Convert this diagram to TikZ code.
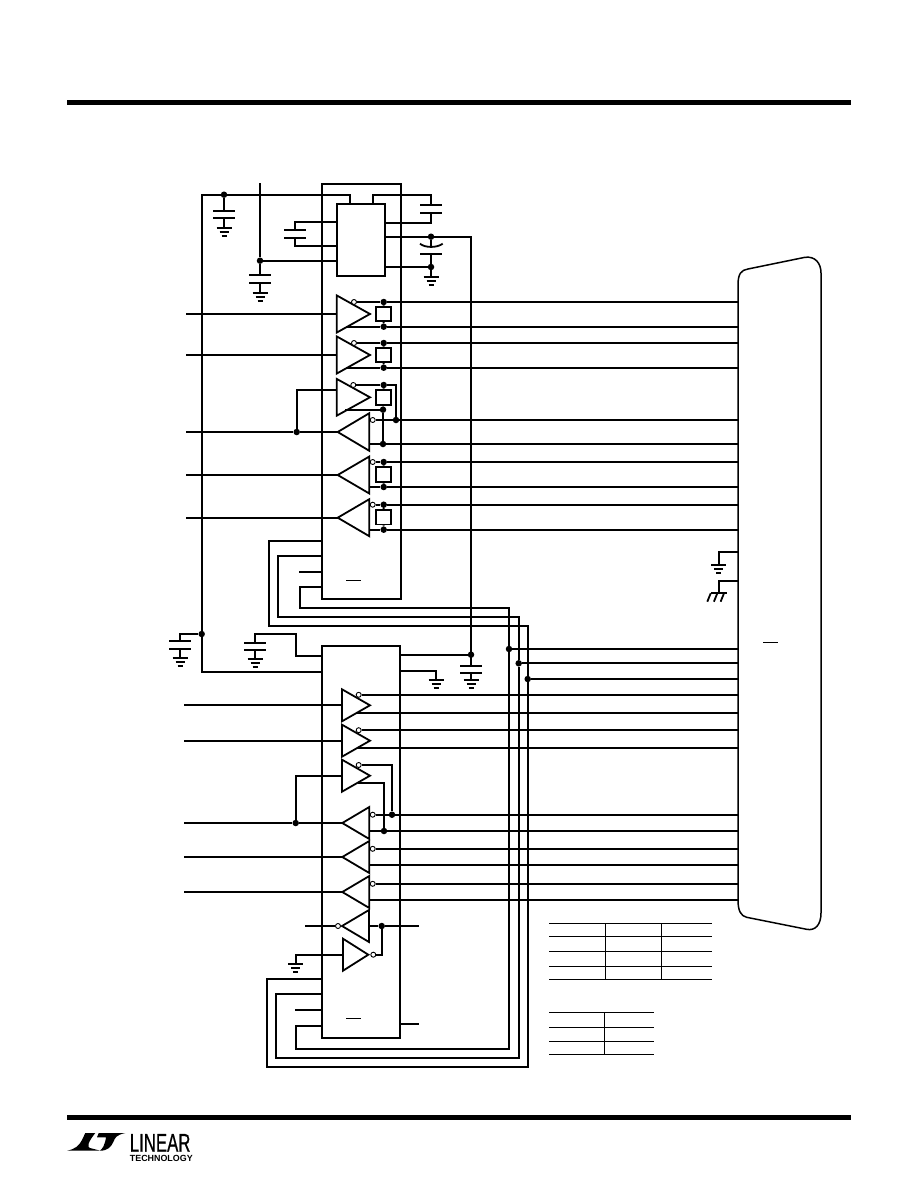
\documentclass[tikz,border=0pt]{standalone}
\usepackage{fontspec}
\setsansfont{Liberation Sans}
\newfontfamily\logofont[FakeBold=0.8]{Liberation Sans}
\tikzset{
  wire/.style={line width=1.8pt},
  hair/.style={line width=0.9pt},
  bar/.style={line width=5pt},
  dot/.style={circle,fill=black,inner sep=0pt,minimum size=6.5pt},
  bubble/.style={circle,draw,fill=white,line width=0.9pt,inner sep=0pt,minimum size=5pt},
  chip/.style={draw,line width=1.8pt,inner sep=0pt},
  resbox/.style={chip,minimum width=15.6pt,minimum height=14.5pt},
  pics/tri/.style args={#1/#2}{code={\draw[wire] (0,-#2) -- (#1,0) -- (0,#2) -- cycle;}},
  pics/gnd/.style={code={
    \draw[wire] (-7.5,0) -- (7.5,0);
    \draw[wire] (-4.5,4) -- (4.5,4);
    \draw[wire] (-2.5,8) -- (2.5,8);}},
  pics/plates/.style={code={
    \draw[wire] (-11,0) -- (11,0);
    \draw[wire] (-11,7.6) -- (11,7.6);}}
}
\begin{document}
\begin{tikzpicture}[x=1pt,y=-1pt]
  \useasboundingbox (0,0) rectangle (918,1188);
  %page rules:
  \draw[bar] (67,102.5) -- (851,102.5);
  \draw[bar] (67,1117.5) -- (851,1117.5);
  %CONNECTOR:
  \draw[line width=1.5pt] (738,900) -- (738,285) .. controls (738,274) and (741,270) .. (748,269) -- (805,257.3) .. controls (815,256) and (821,263) .. (821,273) -- (821,913) .. controls (821,925) and (815,931) .. (806.7,929.3) -- (746.7,917.3) .. controls (741,916) and (738,911) .. (738,900);
  \draw[hair] (763,642.3) -- (778,642.3);
  \draw[wire] (738,551.7) -- (718.7,551.7) -- (718.7,564.7);
  \pic at (718.7,564.7) {gnd};
  \draw[wire] (738,580.7) -- (718.7,580.7) -- (718.7,593.3);
  \draw[wire] (710.7,593.3) -- (726.7,593.3);
  \foreach \xx in {710.7,717.3,724}{
    \draw[wire] (\xx,593.3) -- ++(-3.4,8.4);
  }
  %--- FIRST CHIP ---
  \node[chip,minimum width=79pt,minimum height=415pt] (icA) at (361.5,391.5) {};
  \node[chip,minimum width=48.3pt,minimum height=72.3pt] (regu) at (360.85,239.85) {};
  \draw[hair] (346,580.3) -- (361,580.3);
  %supply and pump capacitors
  \node[dot] (railL) at (201.7,634) {};
  \node[dot] (railA) at (224,194.7) {};
  \node[dot] (vddA) at (260,260.7) {};
  \node[dot] (pumpT) at (431,236.7) {};
  \node[dot] (pumpB) at (431,267) {};
  \draw[wire] (322,671.7) -- (201.7,671.7) -- (railL) -- (201.7,194.7) -- (railA) -- (350,194.7) -- (350,203.7);
  \draw[wire] (railA) -- (224,210.7);
  \pic at (224,210.7) {plates};
  \draw[wire] (224,218.3) -- (224,228);
  \pic at (224,228) {gnd};
  \draw[wire] (260,183) -- (vddA) -- (260,275);
  \draw[wire] (vddA) -- (337,260.7);
  \pic at (260,275) {plates};
  \draw[wire] (260,282.6) -- (260,292.7);
  \pic at (260,292.7) {gnd};
  \draw[wire] (373.3,203.7) -- (373.3,194.7) -- (431,194.7) -- (431,205.1);
  \pic at (431,205.1) {plates};
  \draw[wire] (431,212.7) -- (431,222.7) -- (385,222.7);
  \draw[wire] (337,221.7) -- (295,221.7) -- (295,230);
  \pic at (295,230) {plates};
  \draw[wire] (295,237.6) -- (295,246) -- (337,246);
  \draw[wire] (385,236.7) -- (pumpT) -- (471,236.7) -- (471,665.7);
  \draw[wire] (pumpT) -- (431,247);
  \draw[wire] (420,243.7) .. controls (425,248) and (437,248) .. (442.7,243.7);
  \draw[wire] (420,254) -- (442,254);
  \draw[wire] (431,254) -- (pumpB) -- (431,277);
  \draw[wire] (385,267) -- (pumpB);
  \pic at (431,277) {gnd};
  %drivers with a resistor
  \foreach \yy/\nn in {314/a,355/b}{
    \begin{scope}[shift={(0,\yy)}]
      \pic at (336.7,0) {tri=33.3/18.6};
      \node[bubble] (bub\nn) at (354,-12) {};
      \node[dot] (hi\nn) at (383.7,-12) {};
      \node[dot] (lo\nn) at (383.7,12.7) {};
      \node[resbox] (res\nn) at (383.5,0) {};
      \draw[wire] (186,0) -- (336.7,0);
      \draw[wire] (bub\nn) -- (hi\nn) -- (738,-12);
      \draw[wire] (347,12.7) -- (lo\nn) -- (738,12.7);
      \draw[wire] (hi\nn) -- (res\nn) -- (lo\nn);
    \end{scope}
  }
  %looped driver and receiver
  \pic at (336.7,397.3) {tri=33.3/18.4};
  \pic[xscale=-1] at (369.3,432) {tri=31.6/18.8};
  \node[bubble] (bubl) at (353.3,385) {};
  \node[dot] (hil) at (383.7,385) {};
  \node[dot] (lol) at (383,409.7) {};
  \node[resbox] (resl) at (383.5,397.5) {};
  \node[bubble] (bubr) at (372.7,420) {};
  \node[dot] (outp) at (396,420) {};
  \node[dot] (outn) at (383,444) {};
  \node[dot] (inl) at (296.7,432) {};
  \draw[wire] (bubl) -- (hil) -- (396,385) -- (outp);
  \draw[wire] (bubr) -- (outp) -- (738,420);
  \draw[wire] (hil) -- (resl) -- (lol);
  \draw[wire] (345,409.7) -- (lol) -- (outn);
  \draw[wire] (369.3,444) -- (outn) -- (738,444);
  \draw[wire] (336.7,390) -- (296.7,390) -- (inl);
  \draw[wire] (186,432) -- (inl) -- (337.7,432);
  %receivers with a resistor
  \foreach \yy/\nn in {475/c,517.7/d}{
    \begin{scope}[shift={(0,\yy)}]
      \pic[xscale=-1] at (369.3,0) {tri=31.6/18.5};
      \node[bubble] (bub\nn) at (372.7,-13) {};
      \node[dot] (hi\nn) at (383.7,-13) {};
      \node[dot] (lo\nn) at (383.7,12) {};
      \node[resbox] (res\nn) at (383.5,-0.5) {};
      \draw[wire] (186,0) -- (337.7,0);
      \draw[wire] (bub\nn) -- (hi\nn) -- (738,-13);
      \draw[wire] (369.3,12) -- (lo\nn) -- (738,12);
      \draw[wire] (hi\nn) -- (res\nn) -- (lo\nn);
    \end{scope}
  }
  %bus pins
  \node[dot] (busC) at (509,649) {};
  \node[dot] (busB) at (518.7,663.3) {};
  \node[dot] (busA) at (527.7,679) {};
  \draw[wire] (322,541) -- (269,541) -- (269,626) -- (527.7,626) -- (busA) -- (527.7,1066.7) -- (266.7,1066.7) -- (266.7,979) -- (322,979);
  \draw[wire] (322,556) -- (278.3,556) -- (278.3,617) -- (518.7,617) -- (busB) -- (518.7,1057.7) -- (276,1057.7) -- (276,994) -- (322,994);
  \draw[wire] (322,587) -- (300,587) -- (300,608) -- (509,608) -- (busC) -- (509,1049) -- (295.7,1049) -- (295.7,1025.7) -- (322,1025.7);
  \draw[wire] (299,571.7) -- (322,571.7);
  \draw[wire] (busC) -- (738,649);
  \draw[wire] (busB) -- (738,663.3);
  \draw[wire] (busA) -- (738,679);
  %--- SECOND CHIP ---
  \node[chip,minimum width=78pt,minimum height=392pt] (icB) at (361,841.7) {};
  \draw[hair] (346,1018) -- (361,1018);
  \draw[wire] (railL) -- (180,634) -- (180,641);
  \pic at (180,641) {plates};
  \draw[wire] (180,648.6) -- (180,658);
  \pic at (180,658) {gnd};
  \draw[wire] (322,655.7) -- (296,655.7) -- (296,634) -- (255,634) -- (255,642.7);
  \pic at (255,642.7) {plates};
  \draw[wire] (255,650.3) -- (255,659);
  \pic at (255,659) {gnd};
  \node[dot] (pumpD) at (471,654.7) {};
  \draw[wire] (400,654.7) -- (pumpD);
  \pic at (471,665.7) {plates};
  \draw[wire] (471,673.3) -- (471,680);
  \pic at (471,680) {gnd};
  \draw[wire] (400,670.7) -- (436,670.7) -- (436,680);
  \pic at (436,680) {gnd};
  \foreach \yy/\nn in {705.3/e,740.7/f}{
    \begin{scope}[shift={(0,\yy)}]
      \pic at (342,0) {tri=28/16};
      \node[bubble] (bub\nn) at (358.7,-10.5) {};
      \draw[wire] (184,0) -- (342,0);
      \draw[wire] (bub\nn) -- (738,-10.5);
      \draw[wire] (357,7.6) -- (738,7.6);
    \end{scope}
  }
  \pic at (342,775.7) {tri=28/16};
  \pic[xscale=-1] at (369.3,823) {tri=27/16};
  \node[bubble] (bubg) at (358.7,765) {};
  \node[bubble] (bubs) at (372.7,814.7) {};
  \node[dot] (outq) at (392,814.7) {};
  \node[dot] (outm) at (384,831) {};
  \node[dot] (inm) at (295.7,823) {};
  \draw[wire] (bubg) -- (392,765) -- (outq);
  \draw[wire] (bubs) -- (outq) -- (738,814.7);
  \draw[wire] (358,782.7) -- (384,782.7) -- (outm);
  \draw[wire] (369.3,831) -- (outm) -- (738,831);
  \draw[wire] (342,775.7) -- (295.7,775.7) -- (inm);
  \draw[wire] (184,823) -- (inm) -- (342.3,823);
  \foreach \yy/\nn in {857/h,892/i}{
    \begin{scope}[shift={(0,\yy)}]
      \pic[xscale=-1] at (369.3,0) {tri=27/16};
      \node[bubble] (bub\nn) at (372.7,-8.2) {};
      \draw[wire] (184,0) -- (342.3,0);
      \draw[wire] (bub\nn) -- (738,-8.2);
      \draw[wire] (369.3,8) -- (738,8);
    \end{scope}
  }
  %last pair, tied together
  \pic[xscale=-1] at (369,926) {tri=27/16};
  \pic at (343,954.7) {tri=25.3/16};
  \node[bubble] (bubj) at (338,926) {};
  \node[bubble] (bubk) at (373.3,954.7) {};
  \node[dot] (tieP) at (381.7,926) {};
  \draw[wire] (305,926) -- (bubj);
  \draw[wire] (369,926) -- (tieP) -- (419,926);
  \draw[wire] (bubk) -- (381.7,954.7) -- (tieP);
  \draw[wire] (343,954.7) -- (295.7,954.7) -- (295.7,964);
  \pic at (295.7,964) {gnd};
  \draw[wire] (295,1009.7) -- (322,1009.7);
  \draw[wire] (400,1023.7) -- (419,1023.7);
  %TABLES:
  \foreach \yy in {923.3,936.3,951.3,966.3,979.3}{
    \draw[hair] (549,\yy) -- (712,\yy);
  }
  \foreach \xx in {605.7,661.7}{
    \draw[hair] (\xx,923.3) -- (\xx,979.3);
  }
  \foreach \yy in {1012.3,1027.3,1041.3,1054.3}{
    \draw[hair] (549,\yy) -- (654,\yy);
  }
  \draw[hair] (604.3,1012.3) -- (604.3,1054.3);
  %LOGO:
  \fill (85.3,1133) -- (95.3,1133) .. controls (89,1141) and (85,1148) .. (92,1148.5) -- (100.3,1150.7) -- (67,1150.7) .. controls (75,1149) and (79,1146) .. (82,1140) -- cycle;
  \fill (98.7,1133) -- (125.3,1133) .. controls (116,1135) and (115,1138) .. (113.7,1141.3) .. controls (111,1147) and (108,1150.7) .. (100,1150.7) .. controls (103,1148) and (104.5,1145) .. (105.3,1141.3) -- (106,1137.3) -- (97,1137.3) -- cycle;
  \node[anchor=base west,inner sep=0pt,xscale=0.653,font=\logofont\fontsize{25.7}{26}\selectfont] (logoA) at (129.7,1151.7) {LINEAR};
  \node[anchor=base west,inner sep=0pt,font=\sffamily\bfseries\fontsize{8.9}{9}\selectfont] (logoB) at (129.7,1161.5) {TECHNOLOGY};
\end{tikzpicture}
\end{document}
